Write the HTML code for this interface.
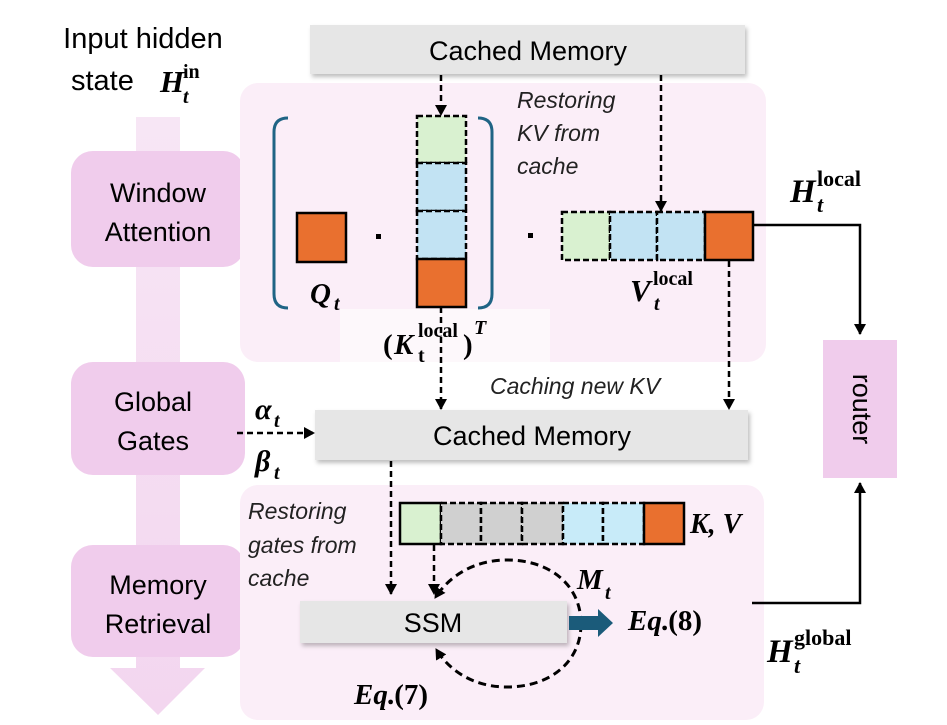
<!DOCTYPE html>
<html><head><meta charset="utf-8"><style>
html,body{margin:0;padding:0;background:#fff;}
svg{display:block;}
.s{font-family:"Liberation Sans",sans-serif;}
.m{font-family:"Liberation Serif",serif;font-weight:bold;font-style:italic;}
.mu{font-family:"Liberation Serif",serif;font-weight:bold;}
</style></head><body>
<svg width="947" height="725" viewBox="0 0 947 725" xmlns="http://www.w3.org/2000/svg">
<defs>
<linearGradient id="ag" x1="0" y1="0" x2="0" y2="1"><stop offset="0" stop-color="#f7e6f5"/><stop offset="1" stop-color="#f3d6ef"/></linearGradient>
<marker id="ah" markerWidth="12" markerHeight="12" refX="10" refY="6" orient="auto" markerUnits="userSpaceOnUse"><path d="M0,0 L11,6 L0,12 z" fill="#000"/></marker>
<filter id="sh" x="-5%" y="-20%" width="115%" height="160%"><feDropShadow dx="2" dy="3" stdDeviation="2" flood-color="#000" flood-opacity="0.25"/></filter>
</defs>
<path d="M136,117 L180,117 L180,668 L205,668 L158,715 L110,668 L136,668 z" fill="url(#ag)"/>
<text class="s" x="143" y="48" font-size="29" text-anchor="middle">Input hidden</text>
<text class="s" x="71" y="90" font-size="29">state</text>
<text class="m" x="160" y="92" font-size="31">H</text>
<text class="m" x="183" y="103" font-size="20">t</text>
<text class="mu" x="183" y="78" font-size="20">in</text>
<rect x="71" y="151" width="174" height="116" rx="22" fill="#f0ccec"/>
<text class="s" x="158" y="202" font-size="27" text-anchor="middle">Window</text>
<text class="s" x="158" y="241" font-size="27" text-anchor="middle">Attention</text>
<rect x="71" y="362" width="174" height="113" rx="22" fill="#f0ccec"/>
<text class="s" x="153" y="411" font-size="27" text-anchor="middle">Global</text>
<text class="s" x="153" y="450" font-size="27" text-anchor="middle">Gates</text>
<rect x="71" y="545" width="174" height="112" rx="22" fill="#f0ccec"/>
<text class="s" x="158" y="594" font-size="27" text-anchor="middle">Memory</text>
<text class="s" x="158" y="633" font-size="27" text-anchor="middle">Retrieval</text>
<rect x="240" y="83" width="526" height="279" rx="18" fill="#fbeef8"/>
<rect x="240" y="485" width="524" height="235" rx="18" fill="#fbeef8"/>
<rect x="340" y="309" width="210" height="53" fill="#fdf8fb"/>
<rect x="310" y="25" width="435" height="49" fill="#e6e6e6" filter="url(#sh)"/>
<text class="s" x="528" y="60" font-size="27" text-anchor="middle">Cached Memory</text>
<path d="M288,118 Q274,118 274,132 L274,294 Q274,308 288,308" fill="none" stroke="#1f6485" stroke-width="3"/>
<path d="M478,118 Q492,118 492,132 L492,294 Q492,308 478,308" fill="none" stroke="#1f6485" stroke-width="3"/>
<rect x="297" y="213" width="49" height="49" fill="#e9702f" stroke="#000" stroke-width="2.5"/>
<rect x="376" y="234" width="5" height="5" fill="#000"/>
<rect x="528" y="233" width="5" height="5" fill="#000"/>
<g stroke="#000" stroke-width="2.5" stroke-dasharray="6,3">
<rect x="417" y="116" width="49" height="47" fill="#d9f1d0"/>
<rect x="417" y="163" width="49" height="48" fill="#c2e3f3"/>
<rect x="417" y="211" width="49" height="48" fill="#c2e3f3"/>
</g>
<rect x="417" y="259" width="49" height="48" fill="#e9702f" stroke="#000" stroke-width="2.5"/>
<g stroke="#000" stroke-width="2.5" stroke-dasharray="6,3">
<rect x="562" y="212" width="48" height="48" fill="#d9f1d0"/>
<rect x="610" y="212" width="47" height="48" fill="#c2e3f3"/>
<rect x="657" y="212" width="48" height="48" fill="#c2e3f3"/>
</g>
<rect x="705" y="212" width="48" height="48" fill="#e9702f" stroke="#000" stroke-width="2.5"/>
<g class="s" font-size="23" font-style="italic" fill="#222">
<text x="517" y="108">Restoring</text>
<text x="517" y="141">KV from</text>
<text x="517" y="174">cache</text>
<text x="490" y="394">Caching new KV</text>
<text x="248" y="519">Restoring</text>
<text x="248" y="553">gates from</text>
<text x="248" y="586">cache</text>
</g>
<text class="m" x="310" y="303" font-size="29">Q</text><text class="m" x="334" y="310" font-size="20">t</text>
<text class="m" x="630" y="301" font-size="31">V</text><text class="m" x="654" y="310" font-size="20">t</text><text class="mu" x="653" y="285" font-size="20">local</text>
<text class="mu" x="383" y="354" font-size="29">(</text><text class="m" x="394" y="354" font-size="29">K</text><text class="mu" x="418" y="362" font-size="20">t</text><text class="mu" x="418" y="337" font-size="20">local</text><text class="mu" x="463" y="354" font-size="29">)</text><text class="m" x="474" y="334" font-size="20">T</text>
<g stroke="#000" stroke-width="2.5" stroke-dasharray="6,4" fill="none" marker-end="url(#ah)">
<line x1="441" y1="75" x2="441" y2="115"/>
<line x1="661" y1="75" x2="661" y2="211"/>
<line x1="441" y1="307" x2="441" y2="409"/>
<line x1="729" y1="261" x2="729" y2="409"/>
<line x1="237" y1="433" x2="314" y2="433"/>
<line x1="391" y1="461" x2="391" y2="594"/>
<line x1="434" y1="545" x2="434" y2="594"/>
</g>
<text class="m" x="790" y="202" font-size="33">H</text><text class="m" x="817" y="212" font-size="22">t</text><text class="mu" x="817" y="186" font-size="22">local</text>
<path d="M753,225 L860,225 L860,334" fill="none" stroke="#000" stroke-width="2.5" marker-end="url(#ah)"/>
<rect x="823" y="340" width="74" height="138" fill="#f0ccec"/>
<text class="s" x="860" y="409" font-size="27" text-anchor="middle" dominant-baseline="middle" transform="rotate(90 860 409)">router</text>
<text class="m" x="255" y="419" font-size="30">α</text><text class="m" x="274" y="427" font-size="20">t</text>
<text class="m" x="255" y="471" font-size="30">β</text><text class="m" x="274" y="479" font-size="20">t</text>
<rect x="315" y="410" width="433" height="50" fill="#e6e6e6" filter="url(#sh)"/>
<text class="s" x="532" y="445" font-size="27" text-anchor="middle">Cached Memory</text>
<rect x="400" y="503" width="41" height="41" fill="#d9f1d0" stroke="#000" stroke-width="2.5"/>
<g stroke="#000" stroke-width="2.5" stroke-dasharray="6,3">
<rect x="441" y="503" width="40" height="41" fill="#d0d0d0"/>
<rect x="481" y="503" width="41" height="41" fill="#d0d0d0"/>
<rect x="522" y="503" width="41" height="41" fill="#d0d0d0"/>
<rect x="563" y="503" width="40" height="41" fill="#c8ebf9"/>
<rect x="603" y="503" width="41" height="41" fill="#c8ebf9"/>
</g>
<rect x="644" y="503" width="40" height="41" fill="#e9702f" stroke="#000" stroke-width="2.5"/>
<text class="m" x="690" y="533" font-size="28">K, V</text>
<rect x="300" y="601" width="267" height="42" fill="#e6e6e6" filter="url(#sh)"/>
<text class="s" x="433" y="632" font-size="27" text-anchor="middle">SSM</text>
<g stroke="#000" stroke-width="3" stroke-dasharray="8,5" fill="none" marker-end="url(#ah)">
<path d="M581,624 C581,585 550,560 507,560 C475,560 450,575 435,598"/>
<path d="M581,624 C581,662 550,687 507,687 C475,687 450,672 436,649"/>
</g>
<path d="M569,616 L598,616 L598,609 L613,623 L598,637 L598,630 L569,630 z" fill="#1b5b7a"/>
<text class="m" x="577" y="589" font-size="29">M</text><text class="m" x="605" y="599" font-size="20">t</text>
<text class="m" x="628" y="630" font-size="29">Eq</text><text class="mu" x="661" y="630" font-size="29">.(8)</text>
<text class="m" x="354" y="704" font-size="29">Eq</text><text class="mu" x="387" y="704" font-size="29">.(7)</text>
<path d="M752,603 L860,603 L860,483" fill="none" stroke="#000" stroke-width="2.5" marker-end="url(#ah)"/>
<text class="m" x="767" y="662" font-size="33">H</text><text class="m" x="794" y="673" font-size="22">t</text><text class="mu" x="794" y="645" font-size="22">global</text>
</svg>
</body></html>
